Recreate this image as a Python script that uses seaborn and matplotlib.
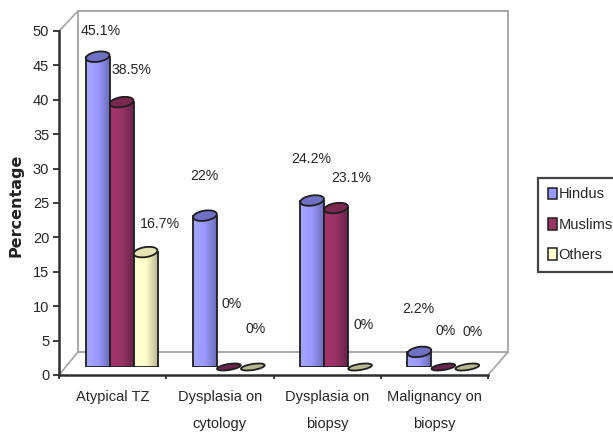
import numpy as np
import pandas as pd
import seaborn as sns
import matplotlib
matplotlib.use("Agg")
import matplotlib.pyplot as plt
from matplotlib.colors import LinearSegmentedColormap
from matplotlib.lines import Line2D
from matplotlib.patches import Ellipse
from matplotlib.transforms import Affine2D

categories = ["Atypical TZ", "Dysplasia on\ncytology", "Dysplasia on\nbiopsy", "Malignancy on\nbiopsy"]
hindus = [45.1, 22, 24.2, 2.2]
muslims = [38.5, 0, 23.1, 0]
others = [16.7, 0, 0, 0]
groups = ["Hindus", "Muslims", "Others"]

# Per-group shades: flat fill, lit side, shaded side, cap
fills = ["#9999FF", "#993366", "#FFFFCC"]
lit = ["#A6A6FF", "#A3356C", "#FFFFD2"]
shade = ["#6C6CB8", "#69234A", "#B8B890"]
caps = ["#7070C4", "#7A2850", "#E4E4B4"]

# Label offsets from each bar's top, in pixels
label_dx = [[3, 10, 14], [-1, 3, 3], [-1, 15, 4], [-1, 2, 5]]
label_dy = [[26, 32, 28], [40, 63, 38], [42, 30, 42], [43, 36, 35]]

W, H = 613, 432
sns.set_theme(style="white")
plt.rcParams["font.family"] = ["Liberation Sans", "DejaVu Sans"]
plt.rcParams["font.size"] = 10
INK = "#262626"
WALL = "#A8A8A8"
AXIS = "#2E2E2E"
EDGE = "#1E1E1E"


def box(left, top, right, bottom):
    return [left / W, 1 - bottom / H, (right - left) / W, (bottom - top) / H]


def fig_pt(x, y):
    return x / W, 1 - y / H


fig = plt.figure(figsize=(W / 100, H / 100), dpi=100, facecolor="white")

# Back wall of the chart box
ax_back = fig.add_axes(box(78, 11, 508, 352), zorder=0)
ax_back.set_xticks([])
ax_back.set_yticks([])
for s in ax_back.spines.values():
    s.set_color(WALL)
    s.set_linewidth(1.4)

# Front value axis with ticks and category boundaries
ax_front = fig.add_axes(box(59, 31, 488, 375), zorder=1)
ax_front.patch.set_alpha(0)
ax_front.set_xlim(-0.5, 3.5)
ax_front.set_ylim(0, 50)
ax_front.set_yticks(range(0, 51, 5))
ax_front.set_xticks(np.arange(-0.5, 3.6, 1))
ax_front.set_xticklabels([])
ax_front.set_xticks(range(4), categories, minor=True, linespacing=2.2)
ax_front.tick_params(axis="x", which="minor", length=0, pad=11, labelsize=10.5, labelcolor=INK)
ax_front.tick_params(axis="x", which="major", length=3, width=1.3, color=AXIS, bottom=True)
ax_front.tick_params(axis="y", length=4, width=1.3, color=AXIS, left=True, pad=3, labelsize=10.5, labelcolor=INK)
sns.despine(ax=ax_front)
for side in ("left", "bottom"):
    ax_front.spines[side].set_color(AXIS)
    ax_front.spines[side].set_linewidth(1.8)
ax_front.text(16 / W, 1 - 205 / H, "Percentage", transform=fig.transFigure, rotation=90,
              ha="center", va="center", fontsize=11.5, fontweight="bold",
              family="DejaVu Sans", color="#222222")

# Receding edges joining the front axis to the back wall
for (x0, y0), (x1, y1) in [((59, 31), (78, 11)), ((59, 375), (78, 352)), ((488, 375), (508, 352))]:
    a, b = fig_pt(x0, y0), fig_pt(x1, y1)
    fig.add_artist(Line2D([a[0], b[0]], [a[1], b[1]], color=WALL, lw=1.3, transform=fig.transFigure, zorder=0.5))

# Columns sit mid-depth on the floor
ax = fig.add_axes(box(68, 23, 497, 367), zorder=2)
ax.patch.set_alpha(0)
df = pd.DataFrame({"Hindus": hindus, "Muslims": muslims, "Others": others}, index=categories)
long_df = df.reset_index(names="category").melt("category", var_name="group", value_name="value")
sns.barplot(data=long_df, x="category", y="value", hue="group", hue_order=groups, order=categories,
            palette=fills, width=0.67, gap=0, dodge=True, saturation=1, ax=ax, errorbar=None)
ax.set_xlim(-0.5, 3.5)
ax.set_ylim(0, 50)
ax.axis("off")

handles, labels = ax.get_legend_handles_labels()
ax.get_legend().remove()
for h in handles:
    h.set_edgecolor(EDGE)
    h.set_linewidth(1.1)
leg = fig.legend(handles, labels, loc="upper left", bbox_to_anchor=(538 / W, 1 - 177.5 / H),
                 borderaxespad=0, borderpad=0.68, handlelength=0.62, handleheight=0.85, handletextpad=0.1,
                 labelspacing=1.12, fontsize=10.5, fancybox=False, framealpha=1,
                 labelcolor=INK, edgecolor="#444444")
leg.get_frame().set_linewidth(1.6)

# Shade each column side to side, then cap it with an ellipse
fig.canvas.draw()
for g, container in enumerate(ax.containers):
    cmap = LinearSegmentedColormap.from_list(groups[g], [lit[g], fills[g], shade[g]])
    for c, bar in enumerate(container):
        x = bar.get_x()
        w = bar.get_width()
        v = bar.get_height()
        cx, top = ax.transData.transform((x + w / 2, v))
        wpx = ax.transData.transform((x + w, 0))[0] - ax.transData.transform((x, 0))[0]
        z = 3 + g + c * 0.1
        if v > 0:
            img = ax.imshow(np.linspace(0, 1, 64).reshape(1, -1), cmap=cmap, aspect="auto",
                            extent=(x, x + w, 0, v), zorder=z, interpolation="bilinear")
            img.set_clip_path(bar)
            bar.set_facecolor("none")
            bar.set_edgecolor(EDGE)
            bar.set_linewidth(1.3)
            bar.set_zorder(z + 0.01)
            cap_h = 10
        else:
            bar.set_visible(False)
            cap_h = 6
        ax.add_patch(Ellipse((0, 0), wpx, cap_h, angle=9, facecolor=caps[g] if v > 0 else shade[g],
                             edgecolor=EDGE, linewidth=1.3, zorder=z + 0.02,
                             transform=Affine2D().translate(cx, top), clip_on=False))
        ax.annotate(f"{v:g}%", xy=(x + w / 2, v), xytext=(label_dx[c][g] * 0.72, label_dy[c][g] * 0.72),
                    textcoords="offset points", ha="center", va="center",
                    fontsize=10.2, color=INK, zorder=20, annotation_clip=False)
ax.set_xlim(-0.5, 3.5)
ax.set_ylim(0, 50)

fig.savefig("out.png", dpi=100, facecolor="white")
